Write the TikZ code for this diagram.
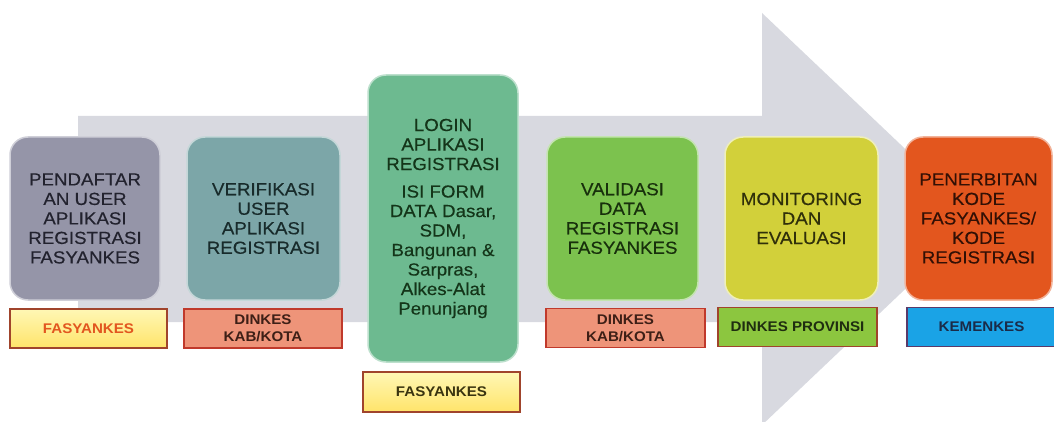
\documentclass[tikz,border=0pt]{standalone}
\usepackage{fontspec}
\setmainfont{Liberation Sans}
\newfontfamily\boxfont[FakeStretch=1.07,FakeBold=0.35]{Liberation Sans}
\newfontfamily\labfont[FakeStretch=1.08]{Liberation Sans}
\definecolor{arrowgray}{HTML}{D8D9E0}
\definecolor{c1}{HTML}{9595A8}
\definecolor{c2}{HTML}{7CA6A8}
\definecolor{c3}{HTML}{6DBA90}
\definecolor{c4}{HTML}{7CC24E}
\definecolor{c5}{HTML}{D2D03A}
\definecolor{c6}{HTML}{E3561E}
\definecolor{t1}{HTML}{22222E}
\definecolor{t2}{HTML}{182B2B}
\definecolor{t3}{HTML}{143519}
\definecolor{t4}{HTML}{18300C}
\definecolor{t5}{HTML}{30300A}
\definecolor{t6}{HTML}{321005}
\definecolor{salmon}{HTML}{EE9479}
\definecolor{lgreen}{HTML}{8CC63F}
\definecolor{lblue}{HTML}{1AA3E6}
\definecolor{ytop}{HTML}{FFF7B5}
\definecolor{ybot}{HTML}{FFE46A}
\definecolor{brdr}{HTML}{A0442C}
\definecolor{brdred}{HTML}{C0392B}
\definecolor{brdblue}{HTML}{5A3A6A}
\definecolor{lt1}{HTML}{E2561F}
\definecolor{lt2}{HTML}{3D1F16}
\definecolor{lt3}{HTML}{3A3410}
\definecolor{lt5}{HTML}{1F2D10}
\definecolor{lt6}{HTML}{1A2B48}
\tikzset{
  stage/.style={rounded corners=18pt, align=center, inner sep=0pt,
    minimum height=163pt, line width=1.5pt,
    font=\boxfont\fontsize{17.5}{19.5}\selectfont},
  tag/.style={align=center, inner sep=0pt, minimum height=39pt,
    line width=1.2pt, font=\labfont\bfseries\fontsize{14}{17}\selectfont},
  ytag/.style={tag, top color=ytop, bottom color=ybot, draw=brdr},
}
\begin{document}
\begin{tikzpicture}[x=1pt,y=-1pt]
\useasboundingbox (0,0) rectangle (1054,422);
\fill[white] (0,0) rectangle (1054,422);
% background arrow
\fill[arrowgray] (78,116) -- (762,116) -- (762,13) -- (979,219) -- (762,425)
  -- (762,322) -- (78,322) -- cycle;
% stages
\node[stage, fill=c1, draw=c1!45!white, minimum width=150pt, text=t1] (s1) at (85,218.5)
  {PENDAFTAR\\AN USER\\APLIKASI\\REGISTRASI\\FASYANKES};
\node[stage, fill=c2, draw=c2!45!white, minimum width=153pt, text=t2] (s2) at (263.5,218.5)
  {VERIFIKASI\\USER\\APLIKASI\\REGISTRASI};
\node[stage, fill=c3, draw=c3!45!white, minimum width=150pt, minimum height=287pt, text=t3] (s3) at (443,218.5)
  {LOGIN\\APLIKASI\\REGISTRASI\\[8pt]ISI FORM\\DATA Dasar,\\SDM,\\Bangunan \&\\Sarpras,\\Alkes-Alat\\Penunjang};
\node[stage, fill=c4, draw=c4!45!white, minimum width=151pt, text=t4] (s4) at (622.5,218.5)
  {VALIDASI\\DATA\\REGISTRASI\\FASYANKES};
\node[stage, fill=c5, draw=c5!35!white, minimum width=153pt, text=t5] (s5) at (801.5,218.5)
  {MONITORING\\DAN\\EVALUASI};
\node[stage, fill=c6, draw=c6!45!white, minimum width=147pt, text=t6] (s6) at (978.5,218.5)
  {PENERBITAN\\KODE\\FASYANKES/\\KODE\\REGISTRASI};
% tags
\node[ytag, minimum width=157pt, text=lt1] (l1) at (88.5,328.5) {FASYANKES};
\node[tag, fill=salmon, draw=brdred, minimum width=158pt, text=lt2] (l2) at (263,328.5) {DINKES\\KAB/KOTA};
\node[ytag, minimum width=157pt, minimum height=40pt, text=lt3] (l3) at (441.5,392) {FASYANKES};
\node[tag, fill=salmon, draw=brdred, minimum width=159pt, text=lt2] (l4) at (625.5,328) {DINKES\\KAB/KOTA};
\node[tag, fill=lgreen, draw=brdr, minimum width=159pt, text=lt5] (l5) at (797.5,327) {DINKES PROVINSI};
\node[tag, fill=lblue, draw=brdblue, minimum width=149pt, text=lt6] (l6) at (981.5,327) {KEMENKES};
\end{tikzpicture}
\end{document}
